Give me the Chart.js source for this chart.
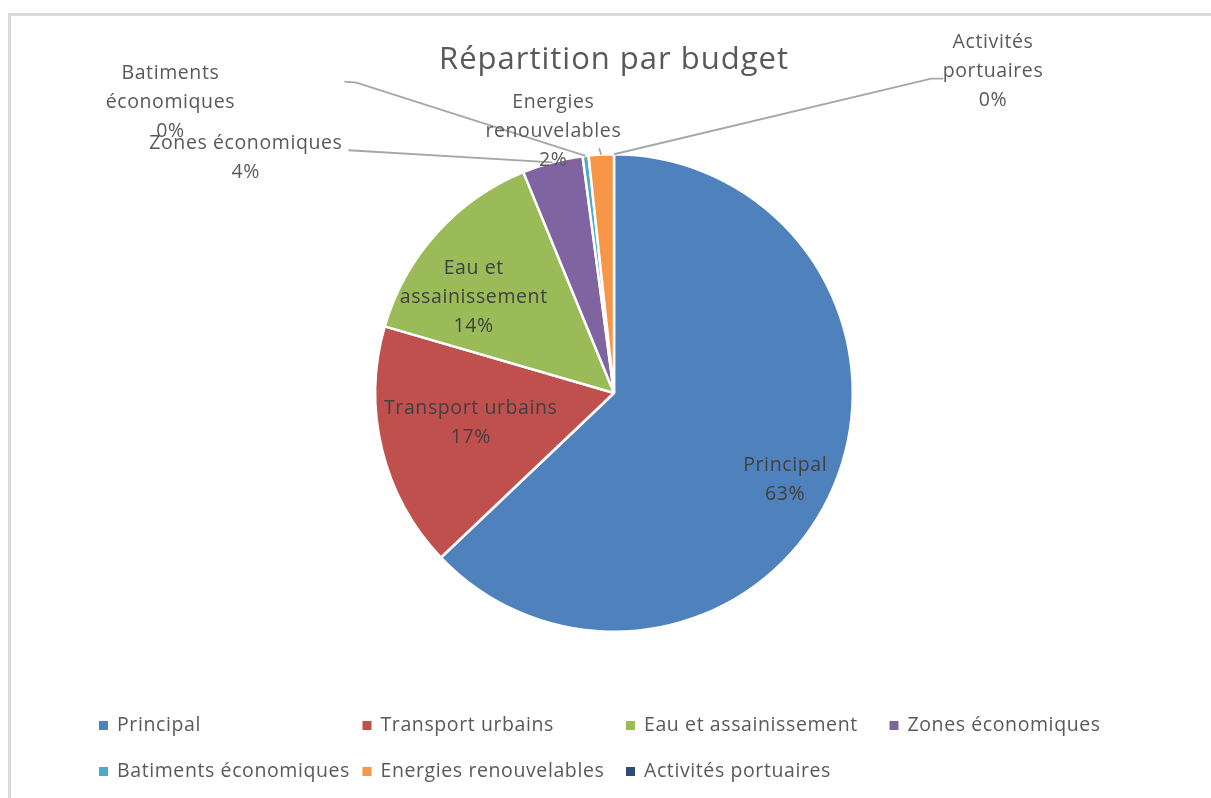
<!DOCTYPE html>
<html>
<head>
<meta charset="utf-8">
<script src="https://cdn.jsdelivr.net/npm/chart.js@4.4.1/dist/chart.umd.min.js"></script>
<style>
  html, body { margin: 0; padding: 0; background: #fff; overflow: hidden; }
  #frame { position: absolute; left: 8px; top: 13px; width: 1300px; height: 900px; border: 3px solid #d9d9d9; }
  #chart { position: absolute; left: 0; top: 0; }
</style>
</head>
<body>
<div id="frame"></div>
<canvas id="chart" width="1211" height="798"></canvas>
<script>
  const categories = ["Principal", "Transport urbains", "Eau et assainissement", "Zones économiques", "Batiments économiques", "Energies renouvelables", "Activités portuaires"];
  const values = [62.9, 16.6, 14.3, 4.1, 0.4, 1.7, 0];
  const colors = ["#4f81bd", "#c0504d", "#9bbb59", "#8064a2", "#4bacc6", "#f79646", "#2c4d75"];
  // text of each data label, split over lines (percent line added at draw time)
  const labelLines = [["Principal"], ["Transport urbains"], ["Eau et", "assainissement"], ["Zones économiques"], ["Batiments", "économiques"], ["Energies", "renouvelables"], ["Activités", "portuaires"]];

  // label centres and leader attach points, in units of the pie radius from its centre
  const labelPos = [[0.717, 0.363], [-0.6, 0.125], [-0.5875, -0.4], [-1.542, -0.983], [-1.858, -1.217], [-0.254, -1.096], [1.5875, -1.346]];
  const leaders = [null, null, null,
    [[-1.1125, -1.0167]],
    [[-1.129, -1.304], [-1.079, -1.3]],
    [[-0.0625, -1.025]],
    [[1.379, -1.317], [1.329, -1.317]]];

  const FONT = "'Open Sans', Lato, sans-serif";
  const TEXT = "#595959";

  const decorations = {
    id: "decorations",
    afterDraw(chart) {
      const ctx = chart.ctx;
      const arcs = chart.getDatasetMeta(0).data;
      const total = values.reduce((a, b) => a + b, 0);
      ctx.save();

      // title
      ctx.fillStyle = TEXT;
      ctx.font = "31px " + FONT;
      ctx.letterSpacing = "1px";
      ctx.textAlign = "center";
      ctx.textBaseline = "middle";
      ctx.fillText("Répartition par budget", (chart.chartArea.left + chart.chartArea.right) / 2, 60);

      // leader lines
      ctx.strokeStyle = "#a6a6a6";
      ctx.lineWidth = 1.8;
      arcs.forEach((arc, i) => {
        if (!leaders[i]) return;
        const r = arc.outerRadius;
        const mid = (arc.startAngle + arc.endAngle) / 2;
        ctx.beginPath();
        leaders[i].forEach((p, k) => {
          const x = arc.x + p[0] * r, y = arc.y + p[1] * r;
          if (k === 0) ctx.moveTo(x, y); else ctx.lineTo(x, y);
        });
        ctx.lineTo(arc.x + Math.cos(mid) * r, arc.y + Math.sin(mid) * r);
        ctx.stroke();
      });

      // data labels
      ctx.font = "19.5px " + FONT;
      ctx.letterSpacing = "0.6px";
      const lh = 29;
      arcs.forEach((arc, i) => {
        const r = arc.outerRadius;
        const lines = labelLines[i].concat([Math.round(values[i] / total * 100) + "%"]);
        const cx = arc.x + labelPos[i][0] * r;
        const cy = arc.y + labelPos[i][1] * r;
        const top = cy - (lines.length - 1) * lh / 2;
        ctx.fillStyle = i < 3 ? "#404040" : TEXT;
        lines.forEach((t, k) => ctx.fillText(t, cx, top + k * lh));
      });

      // legend, two rows of fixed columns
      ctx.textAlign = "left";
      categories.forEach((name, i) => {
        const col = i % 4, row = Math.floor(i / 4);
        const x = 99 + col * 263.5, y = 725 + row * 46;
        ctx.fillStyle = colors[i];
        ctx.fillRect(x, y - 4, 9, 9);
        ctx.fillStyle = TEXT;
        ctx.fillText(name, x + 18, y);
      });
      ctx.restore();
    }
  };

  new Chart(document.getElementById("chart"), {
    type: "pie",
    data: {
      labels: categories,
      datasets: [{
        data: values,
        backgroundColor: colors,
        borderColor: "#ffffff",
        borderWidth: 2.5
      }]
    },
    options: {
      responsive: false,
      animation: false,
      layout: { padding: { top: 153, bottom: 165, left: 300, right: 283 } },
      plugins: {
        legend: { display: false },
        tooltip: { enabled: false },
        title: { display: false }
      }
    },
    plugins: [decorations]
  });
</script>
</body>
</html>
